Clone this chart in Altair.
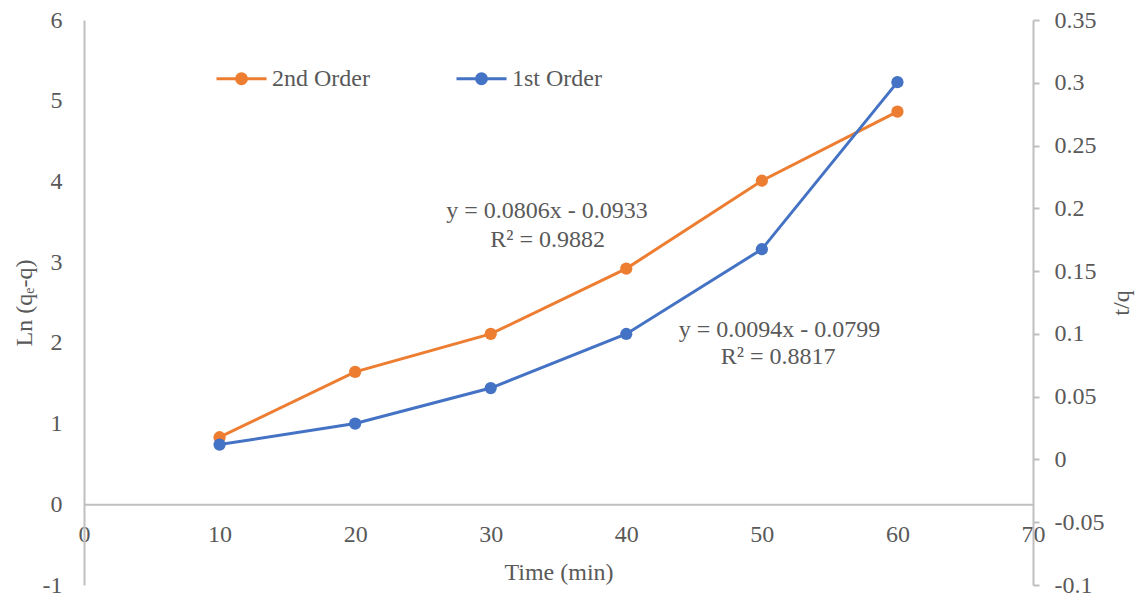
import altair as alt
import pandas as pd

# ---- data ----
time_min = [10, 20, 30, 40, 50, 60]
ln_first_order = [0.74, 1.00, 1.44, 2.11, 3.16, 5.23]       # left axis, "1st Order"
tq_second_order = [0.0177, 0.0698, 0.100, 0.152, 0.222, 0.277]  # right axis, "2nd Order"
series_names = ["2nd Order", "1st Order"]
series_colors = ["#ED7D31", "#4472C4"]

x_ticks = [0, 10, 20, 30, 40, 50, 60, 70]
left_ticks = [-1, 0, 1, 2, 3, 4, 5, 6]
right_ticks = [-0.1, -0.05, 0, 0.05, 0.1, 0.15, 0.2, 0.25, 0.3, 0.35]

eq_texts = ["y = 0.0806x - 0.0933", "R\u00b2 = 0.9882", "y = 0.0094x - 0.0799", "R\u00b2 = 0.8817"]
eq_t = [34.15, 34.2, 51.3, 51.2]
eq_ln = [3.63, 3.27, 2.16, 1.83]

df_first = pd.DataFrame({"t": time_min, "ln": ln_first_order, "series": "1st Order"})
df_second = pd.DataFrame({"t": time_min, "tq": tq_second_order, "series": "2nd Order"})
df_eq = pd.DataFrame({"t": eq_t, "ln": eq_ln, "label": eq_texts})

FONT = "Liberation Serif"
TXT = "#595959"
AXC = "#bfbfbf"
W, H = 949, 565

hyphen_labels = "(datum.value < 0 ? '-' : '') + format(abs(datum.value), '~g')"

legend_path = ("M-1,0L1,0"
               "M-0.2,0A0.2,0.2,0,1,1,0.2,0A0.2,0.2,0,1,1,-0.2,0"
               "M-0.12,0A0.12,0.12,0,1,1,0.12,0A0.12,0.12,0,1,1,-0.12,0"
               "M-0.04,0A0.04,0.04,0,1,1,0.04,0A0.04,0.04,0,1,1,-0.04,0")

color = alt.Color(
    "series:N",
    scale=alt.Scale(domain=series_names, range=series_colors),
    legend=alt.Legend(
        title=None, orient="none", legendX=131, legendY=32, direction="horizontal",
        symbolType=legend_path, symbolSize=2500, symbolStrokeWidth=3,
        labelFont=FONT, labelFontSize=24, labelColor=TXT, labelOffset=4,
        columnPadding=80,
    ),
)

x_enc = alt.X(
    "t:Q",
    scale=alt.Scale(domain=[0, 70], nice=False, zero=False),
    axis=alt.Axis(values=x_ticks, title="Time (min)", offset=-H / 7, ticks=False,
                  labelPadding=18, titlePadding=14, labelFlush=False, labelOverlap=False,
                  grid=False),
)

y_left = alt.Y(
    "ln:Q",
    scale=alt.Scale(domain=[-1, 6], nice=False, zero=False),
    axis=alt.Axis(values=left_ticks, title="Ln (q\u2091-q)", ticks=False, labelPadding=22,
                  labelExpr=hyphen_labels,
                  titlePadding=6, grid=False, labelOverlap=False, labelFlush=False),
)

y_right = alt.Y(
    "tq:Q",
    scale=alt.Scale(domain=[-0.1, 0.35], nice=False, zero=False),
    axis=alt.Axis(orient="right", values=right_ticks, labelExpr=hyphen_labels, title="t/q",
                  ticks=True, tickSize=6, tickColor=AXC, tickWidth=2, labelPadding=15,
                  titleAngle=270, titleBaseline="top", titlePadding=6, grid=False,
                  labelOverlap=False, labelFlush=False),
)

second_line = alt.Chart(df_second).mark_line(strokeWidth=3).encode(x=x_enc, y=y_right, color=color)
second_pts = alt.Chart(df_second).mark_circle(size=150, opacity=1).encode(x=x_enc, y=y_right, color=color)

first_line = alt.Chart(df_first).mark_line(strokeWidth=3).encode(x=x_enc, y=y_left, color=color)
first_pts = alt.Chart(df_first).mark_circle(size=150, opacity=1).encode(x=x_enc, y=y_left, color=color)
eq = alt.Chart(df_eq).mark_text(font=FONT, fontSize=24, color=TXT, align="center",
                                baseline="middle").encode(x=x_enc, y=y_left, text="label:N")

right_group = alt.layer(second_line, second_pts)
left_group = alt.layer(first_line, first_pts, eq)

chart = (
    alt.layer(right_group, left_group)
    .resolve_scale(y="independent")
    .properties(
        width=W, height=H,
        autosize=alt.AutoSizeParams(type="none"),
        padding={"left": 76, "top": 12, "right": 103, "bottom": 14},
        background="white",
    )
    .configure_view(stroke=None)
    .configure_axis(
        labelFont=FONT, labelFontSize=24, labelColor=TXT,
        titleFont=FONT, titleFontSize=24, titleColor=TXT, titleFontWeight="normal",
        domainColor=AXC, domainWidth=2,
    )
)

chart.save("out.html", embed_options={"renderer": "svg", "actions": False})
